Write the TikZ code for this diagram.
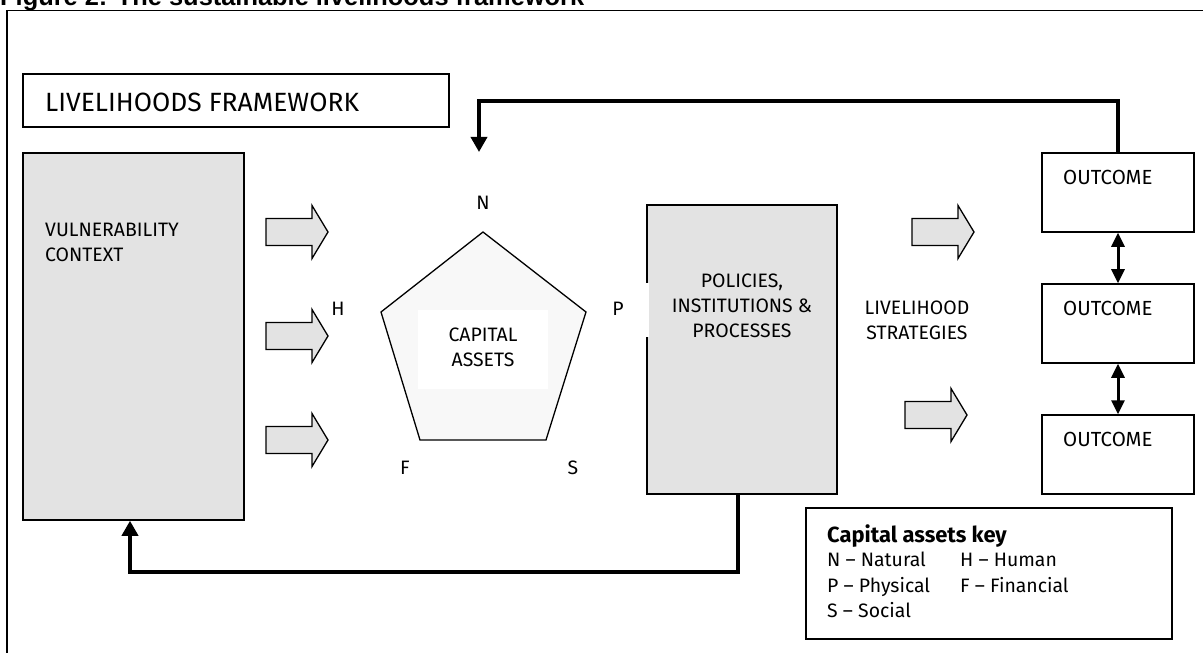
\documentclass[tikz,border=0pt]{standalone}
\usepackage{fontspec}
\setmainfont{Fira Sans}
\newfontfamily\titlefont{Liberation Sans}
\usetikzlibrary{arrows.meta}
\definecolor{boxgray}{RGB}{227,227,227}
\definecolor{pentfill}{RGB}{248,248,248}
\tikzset{
  box/.style={draw=black, line width=1.5bp, inner sep=0pt},
  graybox/.style={box, fill=boxgray},
  lbl/.style={inner sep=0pt, font=\fontsize{19.5}{25}\selectfont},
  feedback/.style={line width=3.5bp, line join=miter},
  fbtip/.style={-{Triangle[width=16bp,length=15bp]}},
  dbl/.style={line width=3bp, {Triangle[width=13bp,length=14bp]}-{Triangle[width=13bp,length=14bp]}},
  blockarr/.pic={\draw[line width=1.3bp, fill=boxgray, line join=miter]
     (0,-13.5) -- (46,-13.5) -- (46,-26.5) -- (62,0) -- (46,26.5) -- (46,13.5) -- (0,13.5) -- cycle;}
}
\begin{document}
\begin{tikzpicture}[x=1bp,y=-1bp]
\useasboundingbox (0,0) rectangle (1203,653);
\fill[white] (0,0) rectangle (1203,653);
% title (cut off at top, as in the reference)
\node[anchor=base west, inner sep=0pt, font=\titlefont\bfseries\fontsize{25.5}{28}\selectfont] (title) at (0,5.5) {Figure 2: The sustainable livelihoods framework};
% outer frame
\draw[line width=1.5bp] (7,660) -- (7,10.5) -- (1210,10.5);
% heading box
\node[box, minimum width=426bp, minimum height=53bp] (lf) at (236,100.5) {};
\node[inner sep=0pt, anchor=base west, font=\fontsize{26.5}{30}\selectfont] (lft) at (45,112) {LIVELIHOODS FRAMEWORK};
% vulnerability context
\node[graybox, minimum width=221bp, minimum height=367bp] (vul) at (133.5,336.5) {};
\node[lbl, anchor=north west, align=left] (vult) at (45,223) {VULNERABILITY\\CONTEXT};
% block arrows left
\pic at (266,232) {blockarr};
\pic at (266,336) {blockarr};
\pic at (266,440) {blockarr};
% pentagon
\coordinate (pN) at (483,232);
\coordinate (pP) at (586,312);
\coordinate (pS) at (546,440);
\coordinate (pF) at (420,440);
\coordinate (pH) at (381,312);
\draw[line width=1.3bp, fill=pentfill, line join=miter] (pN) -- (pP) -- (pS) -- (pF) -- (pH) -- cycle;
\fill[white] (418,310) rectangle (548,389);
\node[lbl, anchor=north, align=center] (cap) at (483,328) {CAPITAL\\ASSETS};
\node[lbl, anchor=base] (lN) at (483,210) {N};
\node[lbl, anchor=base] (lH) at (338,315) {H};
\node[lbl, anchor=base] (lP) at (618,315) {P};
\node[lbl, anchor=base] (lF) at (405,474) {F};
\node[lbl, anchor=base] (lS) at (573,474) {S};
% policies
\node[graybox, minimum width=190bp, minimum height=289bp] (pol) at (742,349.5) {};
\fill[white] (640,283) rectangle (648.5,337);
\node[lbl, anchor=north, align=center] (polt) at (742,274) {POLICIES,\\INSTITUTIONS \&\\PROCESSES};
% livelihood strategies
\node[lbl, anchor=north, align=center] (ls) at (917,301) {LIVELIHOOD\\STRATEGIES};
\pic at (912,232) {blockarr};
\pic at (905,415) {blockarr};
% outcomes
\node[box, minimum width=152bp, minimum height=79bp] (out1) at (1118,192.5) {};
\node[box, minimum width=152bp, minimum height=79bp] (out2) at (1118,323.5) {};
\node[box, minimum width=152bp, minimum height=79bp] (out3) at (1118,454.5) {};
\node[lbl, anchor=base west, font=\fontsize{20.5}{25}\selectfont] (o1t) at (1063,185) {OUTCOME};
\node[lbl, anchor=base west, font=\fontsize{20.5}{25}\selectfont] (o2t) at (1063,315) {OUTCOME};
\node[lbl, anchor=base west, font=\fontsize{20.5}{25}\selectfont] (o3t) at (1063,446) {OUTCOME};
\draw[dbl] (out1.south) -- (out2.north);
\draw[dbl] (out2.south) -- (out3.north);
% feedback loops
\coordinate (fbT1) at (1118,101);
\coordinate (fbT2) at (479,101);
\coordinate (Ntip) at (479,152);
\draw[feedback, fbtip] (out1.north) -- (fbT1) -- (fbT2) -- (Ntip);
\coordinate (fbB1) at (738,572);
\coordinate (fbB2) at (130,572);
\draw[feedback, fbtip] (pol.south -| fbB1) -- (fbB1) -- (fbB2) -- (vul.south -| fbB2);
% key
\node[box, minimum width=366bp, minimum height=131bp] (key) at (989,573.5) {};
\node[lbl, anchor=base west, font=\bfseries\fontsize{22}{25}\selectfont] (keyt) at (827,542) {Capital assets key};
\node[lbl, anchor=base west] (k1) at (827,566) {N – Natural};
\node[lbl, anchor=base west] (k2) at (960,566) {H – Human};
\node[lbl, anchor=base west] (k3) at (827,592) {P – Physical};
\node[lbl, anchor=base west] (k4) at (960,592) {F – Financial};
\node[lbl, anchor=base west] (k5) at (827,617) {S – Social};
\end{tikzpicture}
\end{document}
